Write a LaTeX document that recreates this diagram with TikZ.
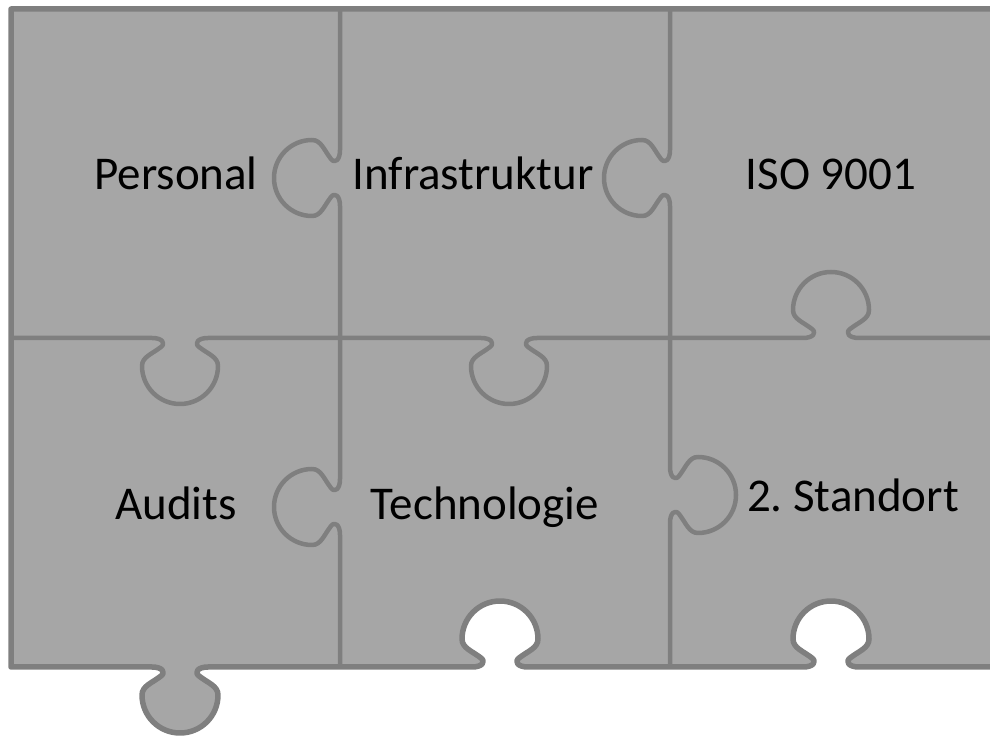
\documentclass[tikz,border=0pt]{standalone}
\usepackage{fontspec}
\setmainfont{Carlito}

\definecolor{puzzlefill}{HTML}{A6A6A6}
\definecolor{puzzleline}{HTML}{7F7F7F}

\tikzset{
  knob/.style={insert path={-- (-28,0) .. controls (-18,0) and (-14,5) .. (-19,9)
      .. controls (-28,16) and (-38,19) .. (-38,28) .. controls (-38,49) and (-21,66) .. (0,66)
      .. controls (21,66) and (38,49) .. (38,28) .. controls (38,19) and (28,16) .. (19,9)
      .. controls (14,5) and (18,0) .. (28,0)}},
  cut/.style={draw=puzzleline, line width=4.5pt, line join=round},
  piecetext/.style={font=\fontsize{47}{56}\selectfont, anchor=base, inner sep=0pt}
}

\begin{document}
\begin{tikzpicture}[x=1pt,y=1pt]
\useasboundingbox (0,0) rectangle (990,736);
\clip (0,0) rectangle (990,736);
% outline of the whole puzzle
\draw[fill=puzzlefill, draw=puzzleline, line width=5.5pt, line join=round] (11,727) -- (11,69)
  {[shift={(180,69)}, yscale=-1, knob]} {[shift={(500,69)}, knob]} {[shift={(831,69)}, knob]}
  -- (1010,69) -- (1010,727) -- cycle;
% cuts between the pieces
\draw[cut] (11,398) {[shift={(180,398)}, yscale=-1, knob]} {[shift={(509,398)}, yscale=-1, knob]}
  {[shift={(831,398)}, knob]} -- (1010,398);
\draw[cut] (340,727) {[shift={(340,558)}, rotate=90, xscale=-1, knob]}
  {[shift={(340,229)}, rotate=90, xscale=-1, knob]} -- (340,69);
\draw[cut] (670,727) {[shift={(670,558)}, rotate=90, xscale=-1, knob]}
  {[shift={(670,241)}, rotate=-90, knob]} -- (670,69);
\node[piecetext] (personal) at (176,546) {Personal};
\node[piecetext] (infra) at (473,546) {Infrastruktur};
\node[piecetext] (iso) at (831,546) {ISO 9001};
\node[piecetext] (audits) at (176,216) {Audits};
\node[piecetext] (tech) at (485,216) {Technologie};
\node[piecetext] (standort) at (853,224) {2.\ Standort};
\end{tikzpicture}
\end{document}
